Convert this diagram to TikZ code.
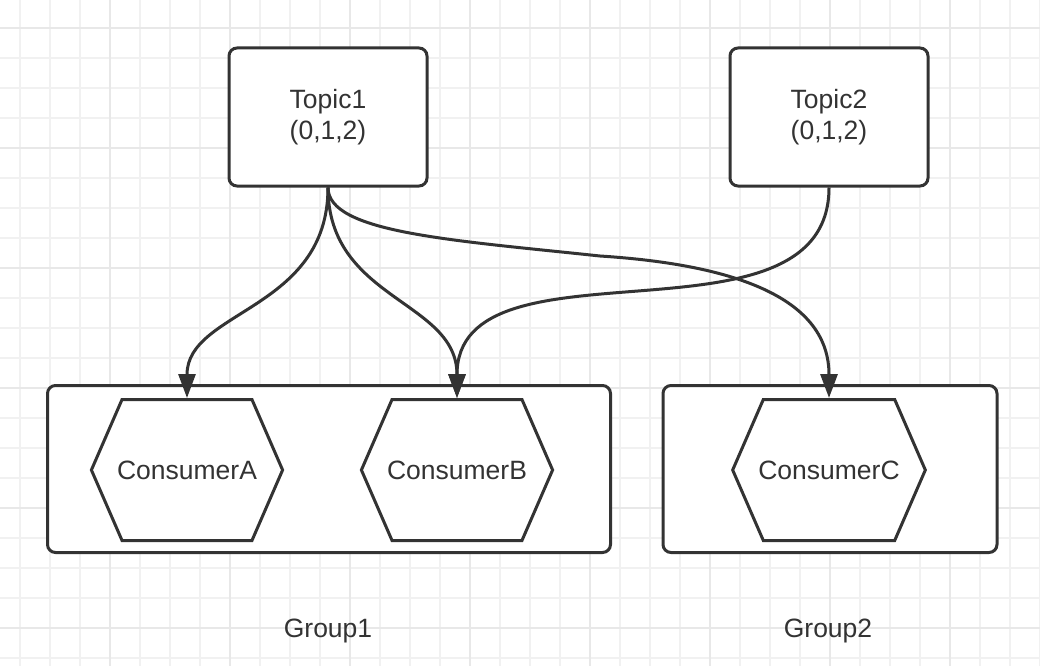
\documentclass[tikz,border=0pt]{standalone}
\usepackage{fontspec}
\setsansfont{Liberation Sans}
\usetikzlibrary{arrows.meta,shapes.symbols,positioning}
\definecolor{ink}{HTML}{333333}
\definecolor{gridA}{HTML}{F1F1F1}
\definecolor{gridB}{HTML}{E8E8E8}
\tikzset{
     box/.style={draw=ink, fill=white, line width=3pt, rounded corners=8pt},
     topic/.style={box, minimum width=198pt, minimum height=138pt, align=center},
     group/.style={box, minimum height=167pt},
     consumer/.style={signal, signal to=east and west, signal pointer angle=133,
                      draw=ink, fill=white, line width=3pt,
                      minimum height=141pt, inner xsep=-5pt, inner ysep=0pt},
     link/.style={draw=ink, line width=3pt, -{Triangle[length=24pt,width=17pt]}},
     gridline/.style={draw=gridA, line width=2pt},
     gridmajor/.style={draw=gridB, line width=2pt},
}
\def\ux{1pt}
\def\uy{-1pt}
\begin{document}
\begin{tikzpicture}[x=\ux, y=\uy, font=\sffamily\fontsize{26.5}{31}\selectfont, text=ink]
		\useasboundingbox (0,0) rectangle (1040,666);
		\fill[white] (0,0) rectangle (1040,666);

		%% background grid
		\foreach \x in {20,50,...,1040}{
			\draw[gridline] (\x,0) -- (\x,666);
		}
		\foreach \y in {28,58,...,666}{
			\draw[gridline] (0,\y) -- (1040,\y);
		}
		\foreach \x in {110,230,...,1040}{
			\draw[gridmajor] (\x,0) -- (\x,666);
		}
		\foreach \y in {28,148,...,666}{
			\draw[gridmajor] (0,\y) -- (1040,\y);
		}

		%% topics
		\node[topic] (topic1) at (328,117) {Topic1\\(0,1,2)};
		\node[topic] (topic2) at (829,117) {Topic2\\(0,1,2)};

		%% groups
		\node[group, minimum width=563pt] (group1) at (329,469) {};
		\node[group, minimum width=334pt] (group2) at (830,469) {};
		\node (group1label) at (328,631) {Group1};
		\node (group2label) at (828,631) {Group2};

		%% consumers
		\node[consumer] (consA) at (187,470) {ConsumerA};
		\node[consumer] (consB) at (457,470) {ConsumerB};
		\node[consumer] (consC) at (829,470) {ConsumerC};

		%% subscriptions
		\coordinate (bend) at (600,256);
		\draw[link] (topic1.south) .. controls +(0,123) and +(0,-88) .. (consA.north);
		\draw[link] (topic1.south) .. controls +(0,113) and +(0,-98) .. (consB.north);
		\draw[link] (topic1.south) .. controls +(0,45) and (450,240) .. (bend)
		            .. controls (740,265) and +(0,-98) .. (consC.north);
		\draw[link] (topic2.south) .. controls +(0,170) and +(0,-168) .. (consB.north);

\end{tikzpicture}
\end{document}
